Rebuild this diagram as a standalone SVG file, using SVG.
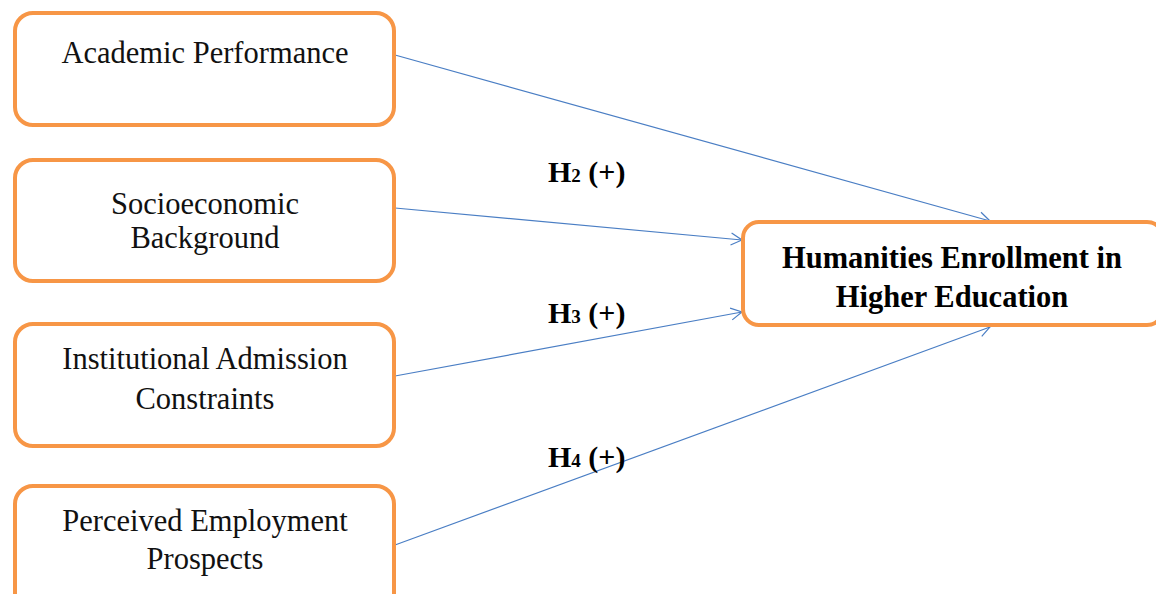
<svg xmlns="http://www.w3.org/2000/svg" width="1156" height="594" viewBox="0 0 1156 594">
<defs>
<marker id="arr" markerWidth="14" markerHeight="14" refX="12" refY="7" orient="auto" markerUnits="userSpaceOnUse">
<path d="M1,1 L12,7 L1,13" fill="none" stroke="#4A7EC4" stroke-width="1.2"/>
</marker>
<style>
.box{fill:#fff;stroke:#F79646;stroke-width:4}
.t{font-family:"Liberation Serif","Times New Roman",serif;font-size:30.5px;fill:#111;text-anchor:middle}
.b{font-family:"Liberation Serif","Times New Roman",serif;font-size:30.5px;font-weight:bold;fill:#000;text-anchor:middle}
.h{font-family:"Liberation Serif","Times New Roman",serif;font-size:30px;font-weight:bold;fill:#000}
.c{stroke:#4A7EC4;stroke-width:1.2;fill:none;marker-end:url(#arr)}
</style>
</defs>
<rect width="1156" height="594" fill="#fff"/>
<g id="connectors">
<line class="c" x1="395" y1="55" x2="990" y2="221"/>
<line class="c" x1="395" y1="208" x2="742" y2="240"/>
<line class="c" x1="395" y1="376" x2="742" y2="312"/>
<line class="c" x1="395" y1="545" x2="990" y2="327"/>
</g>
<g id="n1"><rect class="box" x="15" y="13" width="379" height="112" rx="18"/><text class="t" x="205" y="63">Academic Performance</text></g>
<g id="n2"><rect class="box" x="15" y="160" width="379" height="121" rx="18"/><text class="t" x="205" y="214">Socioeconomic</text><text class="t" x="205" y="248">Background</text></g>
<g id="n3"><rect class="box" x="15" y="324" width="379" height="122" rx="18"/><text class="t" x="205" y="369">Institutional Admission</text><text class="t" x="205" y="409">Constraints</text></g>
<g id="n4"><rect class="box" x="15" y="486" width="379" height="130" rx="18"/><text class="t" x="205" y="531">Perceived Employment</text><text class="t" x="205" y="569">Prospects</text></g>
<g id="target"><rect class="box" x="743" y="222" width="420" height="103" rx="16"/><text class="b" x="952" y="268">Humanities Enrollment in</text><text class="b" x="952" y="307">Higher Education</text></g>
<g id="labels">
<text class="h" x="548" y="182">H<tspan font-size="19">2</tspan> (+)</text>
<text class="h" x="548" y="323">H<tspan font-size="19">3</tspan> (+)</text>
<text class="h" x="548" y="467">H<tspan font-size="19">4</tspan> (+)</text>
</g>
</svg>
